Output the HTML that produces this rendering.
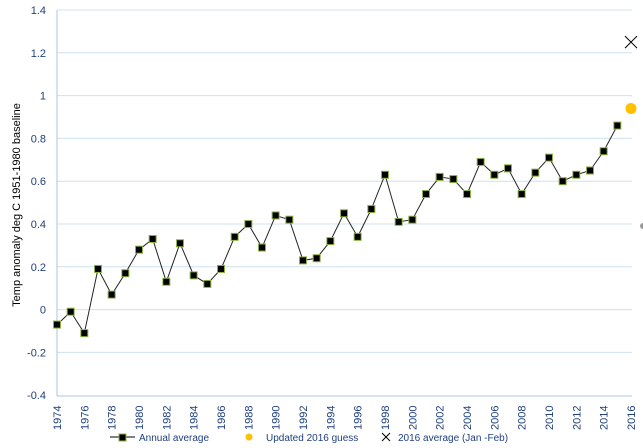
<!DOCTYPE html>
<html><head><meta charset="utf-8"><style>
html,body{margin:0;padding:0;background:#fff;width:643px;height:448px;overflow:hidden}
svg text{font-family:"Liberation Sans",sans-serif}
</style></head><body>
<svg id="s" width="643" height="448" xmlns="http://www.w3.org/2000/svg"></svg>
<script>
const s=document.getElementById('s');
const X=y=>57+(y-1974)*(574/42), Y=v=>309.6-v*214;
let h='';
for(let i=0;i<=9;i++){const v=1.4-i*0.2,yy=Y(v);
 if(i<9)h+=`<line x1="57" x2="632" y1="${yy}" y2="${yy}" stroke="#d0e0f0" stroke-width="1"/>`;
 let t=(Math.round(v*10)/10).toString();
 h+=`<text x="46" y="${yy+4}" text-anchor="end" font-size="11" fill="#1f3f7f">${t}</text>`;}
h+=`<line x1="57" x2="632" y1="396" y2="396" stroke="#a8c4e4"/>`;
h+=`<line x1="57" x2="57" y1="10" y2="396" stroke="#a8c4e4"/>`;
for(let yr=1974;yr<=2016;yr+=2){const x=X(yr);
 h+=`<text transform="translate(${x+4},430) rotate(-90)" font-size="11" fill="#1f3f7f">${yr}</text>`;}
h+=`<text transform="translate(20,205) rotate(-90)" text-anchor="middle" font-size="11" fill="#000">Temp anomaly deg C 1951-1980 baseline</text>`;
const d=[-0.07,-0.01,-0.11,0.19,0.07,0.17,0.28,0.33,0.13,0.31,0.16,0.12,0.19,0.34,0.40,0.29,0.44,0.42,0.23,0.24,0.32,0.45,0.34,0.47,0.63,0.41,0.42,0.54,0.62,0.61,0.54,0.69,0.63,0.66,0.54,0.64,0.71,0.60,0.63,0.65,0.74,0.86];
h+=`<polyline fill="none" stroke="#222" stroke-width="1" points="${d.map((v,i)=>X(1974+i)+','+Y(v)).join(' ')}"/>`;
d.forEach((v,i)=>{h+=`<rect x="${X(1974+i)-3.5}" y="${Y(v)-3.5}" width="7" height="7" fill="#000" stroke="#8db040" stroke-width="1"/>`;});
h+=`<circle cx="631" cy="${Y(0.94)}" r="5.5" fill="#ffc000"/>`;
const xy=Y(1.25);
h+=`<path d="M625 ${xy-6}L637 ${xy+6}M637 ${xy-6}L625 ${xy+6}" stroke="#000" stroke-width="1"/>`;
// legend
h+=`<line x1="110" x2="135" y1="437" y2="437" stroke="#000"/><rect x="119" y="434" width="7" height="7" fill="#000" stroke="#8db040"/>`;
h+=`<text x="139" y="441" font-size="10" fill="#1f3f7f">Annual average</text>`;
h+=`<circle cx="249" cy="437" r="3.5" fill="#ffc000"/><text x="266" y="441" font-size="10" fill="#1f3f7f">Updated 2016 guess</text>`;
h+=`<path d="M382 433L390 441M390 433L382 441" stroke="#000"/><text x="398" y="441" font-size="10" fill="#1f3f7f">2016 average (Jan -Feb)</text>`;
h+=`<circle cx="643" cy="226" r="3" fill="#999"/>`;
s.innerHTML=h;
</script>
</body></html>
